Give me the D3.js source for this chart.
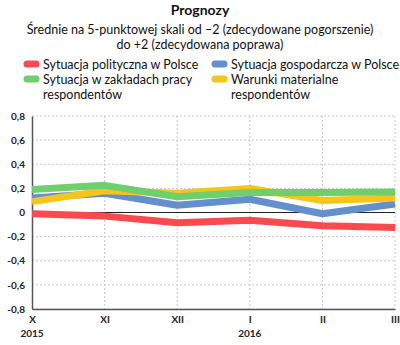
<!DOCTYPE html>
<html><head><meta charset="utf-8">
<script src="https://cdn.jsdelivr.net/npm/d3@7"></script>
<style>body{margin:0;background:#fff;font-family:Lato,"Noto Sans",sans-serif;}</style>
</head><body><svg id="c" width="400" height="345"></svg>
<script>
const months = ["X","XI","XII","I","II","III"];
const years = ["2015","","","2016","",""];
const political = [-0.01,-0.03,-0.085,-0.065,-0.11,-0.125];
const economic = [0.12,0.16,0.06,0.11,-0.01,0.07];
const workplace = [0.19,0.225,0.13,0.165,0.165,0.17];
const material = [0.09,0.18,0.16,0.2,0.1,0.12];
const yTicks = [0.8,0.6,0.4,0.2,0,-0.2,-0.4,-0.6,-0.8];
const seriesNames = ["Sytuacja polityczna w Polsce","Sytuacja gospodarcza w Polsce","Sytuacja w zakładach pracy respondentów","Warunki materialne respondentów"];
const colors = ["#f94b4f","#6390cc","#6fcf6c","#f6c519"];

const svg = d3.select("#c");
const x = d3.scalePoint().domain(months).range([32,395]);
const y = d3.scaleLinear().domain([-0.8,0.8]).range([309,116]);

const gT = svg.append("g").attr("class","titles");
gT.append("text").attr("x",200).attr("y",15).attr("text-anchor","middle")
  .attr("font-weight","bold").attr("font-size",14).attr("fill","#111").text("Prognozy");
gT.append("text").attr("x",200).attr("y",34).attr("text-anchor","middle")
  .attr("font-size",12.5).attr("fill","#111").text("Średnie na 5-punktowej skali od –2 (zdecydowane pogorszenie)");
gT.append("text").attr("x",200).attr("y",49).attr("text-anchor","middle")
  .attr("font-size",12.5).attr("fill","#111").text("do +2 (zdecydowana poprawa)");

// legend
const leg = [
  {i:0,x:23,y:64,lines:["Sytuacja polityczna w Polsce"]},
  {i:1,x:211,y:64,lines:["Sytuacja gospodarcza w Polsce"]},
  {i:2,x:23,y:79,lines:["Sytuacja w zakładach pracy","respondentów"]},
  {i:3,x:211,y:79,lines:["Warunki materialne","respondentów"]}
];
const gL = svg.append("g").attr("class","legend");
leg.forEach(l=>{
  gL.append("line").attr("x1",l.x+4).attr("x2",l.x+13).attr("y1",l.y).attr("y2",l.y)
    .attr("stroke",colors[l.i]).attr("stroke-width",7).attr("stroke-linecap","round");
  const t = gL.append("text").attr("x",l.x+20).attr("y",l.y+4.5).attr("font-size",12.5).attr("fill","#111");
  l.lines.forEach((s,k)=>t.append("tspan").attr("x",l.x+20).attr("dy",k?15:0).text(s));
});

// grid
svg.append("g").selectAll("line").data(yTicks).join("line")
  .attr("x1",32).attr("x2",395).attr("y1",d=>y(d)).attr("y2",d=>y(d))
  .attr("stroke","#c8c8c8").attr("stroke-dasharray","2,2");
svg.append("g").selectAll("line").data(months.slice(1)).join("line")
  .attr("x1",d=>x(d)).attr("x2",d=>x(d)).attr("y1",116).attr("y2",309)
  .attr("stroke","#c8c8c8").attr("stroke-dasharray","2,2");

// axes
const yAxis = d3.axisLeft(y).tickValues(yTicks).tickSize(0).tickPadding(7)
  .tickFormat(d=>d===0?"0":d3.format(".1f")(d).replace(".",",").replace("−","-"));
const gy = svg.append("g").attr("transform","translate(32,0)").call(yAxis);
gy.select(".domain").attr("stroke","#555").attr("stroke-width",1.5);
gy.selectAll("text").attr("font-size",10).attr("font-weight","bold").attr("fill","#222").attr("font-family","Lato,sans-serif");

const xAxis = d3.axisBottom(x).tickSize(0).tickPadding(7);
const gx = svg.append("g").attr("transform","translate(0,309)").call(xAxis);
gx.select(".domain").attr("stroke","#555").attr("stroke-width",1.5);
gx.selectAll("text").attr("font-size",10).attr("font-weight","bold").attr("fill","#222").attr("font-family","Lato,sans-serif");
svg.append("g").attr("class","years").selectAll("text").data(months).join("text")
  .attr("x",d=>x(d)).attr("y",337).attr("text-anchor","middle")
  .attr("font-size",10).attr("font-weight","bold").attr("fill","#222")
  .text((d,i)=>years[i]);

svg.append("line").attr("x1",32).attr("x2",395).attr("y1",y(0)).attr("y2",y(0))
  .attr("stroke","#222").attr("stroke-width",1.2);

const line = d3.line().x((d,i)=>x(months[i])).y(d=>y(d));
const gS = svg.append("g").attr("class","series");
[political,economic,material,workplace].forEach((s,k)=>{
  const ci = [0,1,3,2][k];
  gS.append("path").datum(s).attr("d",line).attr("fill","none")
    .attr("stroke",colors[ci]).attr("stroke-width",7).attr("stroke-linejoin","round");
});
</script></body></html>
